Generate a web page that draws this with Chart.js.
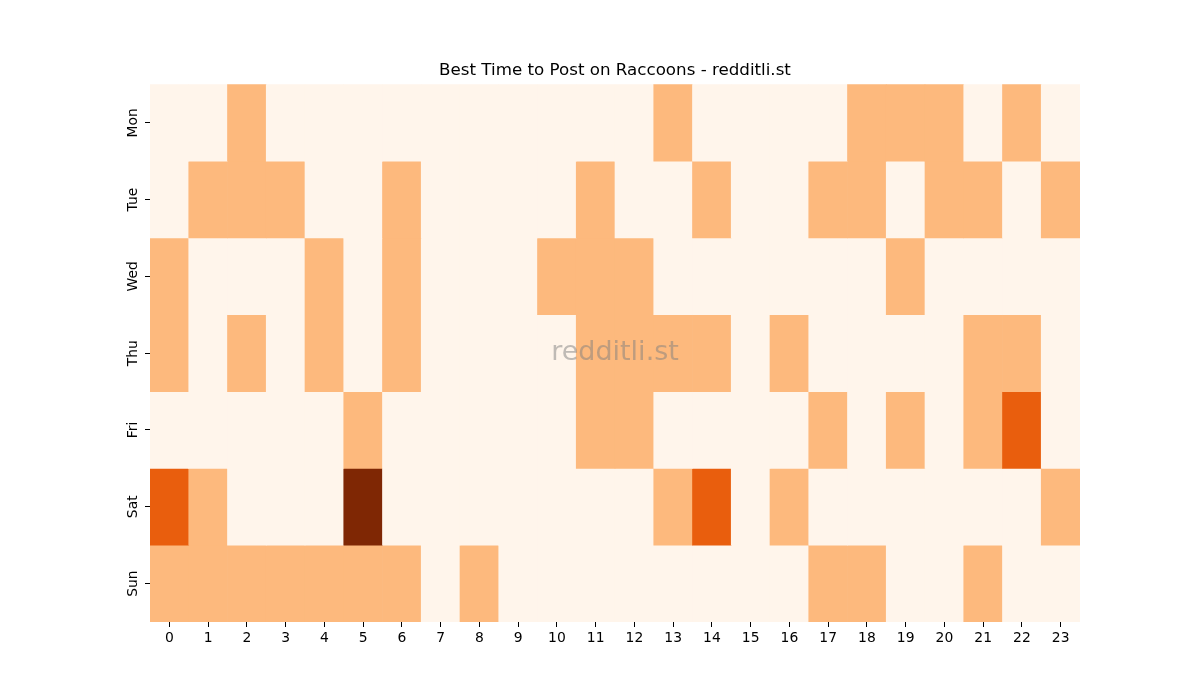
<!DOCTYPE html>
<html lang="en">
<head>
  <meta charset="UTF-8">
  <title>Best Time to Post on Raccoons</title>
  <script src="https://cdn.jsdelivr.net/npm/chart.js@4.4.1/dist/chart.umd.min.js"></script>
  <style>
    html, body { margin: 0; padding: 0; background: #fff; }
    #heatmap { display: block; }
  </style>
</head>
<body>
  <canvas id="heatmap" width="1200" height="700"></canvas>

  <script>
    const days = ['Mon', 'Tue', 'Wed', 'Thu', 'Fri', 'Sat', 'Sun'];
    const hours = ['0','1','2','3','4','5','6','7','8','9','10','11','12','13','14','15','16','17','18','19','20','21','22','23'];

    // post counts per hour, one array per day
    const mon = [0,0,1,0,0,0,0,0,0,0,0,0,0,1,0,0,0,0,1,1,1,0,1,0];
    const tue = [0,1,1,1,0,0,1,0,0,0,0,1,0,0,1,0,0,1,1,0,1,1,0,1];
    const wed = [1,0,0,0,1,0,1,0,0,0,1,1,1,0,0,0,0,0,0,1,0,0,0,0];
    const thu = [1,0,1,0,1,0,1,0,0,0,0,1,1,1,1,0,1,0,0,0,0,1,1,0];
    const fri = [0,0,0,0,0,1,0,0,0,0,0,1,1,0,0,0,0,1,0,1,0,1,2,0];
    const sat = [2,1,0,0,0,3,0,0,0,0,0,0,0,1,2,0,1,0,0,0,0,0,0,1];
    const sun = [1,1,1,1,1,1,1,0,1,0,0,0,0,0,0,0,0,1,1,0,0,1,0,0];
    const rows = [mon, tue, wed, thu, fri, sat, sun];

    // Oranges colormap, value 0..3
    const palette = ['#fff5eb', '#fdb97d', '#e95e0d', '#7f2704'];

    const datasets = rows.map((vals, d) => ({
      label: days[d],
      data: vals.map(() => [d - 0.5, d + 0.5]),
      backgroundColor: vals.map(v => palette[v]),
      borderWidth: 0,
      borderSkipped: false,
      grouped: false,
      barPercentage: 1,
      categoryPercentage: 1
    }));

    const watermark = {
      id: 'watermark',
      afterDatasetsDraw(chart) {
        const { ctx, chartArea } = chart;
        ctx.save();
        ctx.font = '27px "DejaVu Sans"';
        ctx.fillStyle = 'rgba(128, 128, 128, 0.5)';
        ctx.textAlign = 'center';
        ctx.textBaseline = 'middle';
        ctx.fillText('redditli.st', (chartArea.left + chartArea.right) / 2, (chartArea.top + chartArea.bottom) / 2);
        ctx.restore();
      }
    };

    new Chart(document.getElementById('heatmap'), {
      type: 'bar',
      data: { labels: hours, datasets },
      plugins: [watermark],
      options: {
        responsive: false,
        animation: false,
        layout: { padding: { top: 60.4, right: 120, bottom: 0, left: 0 } },
        plugins: {
          legend: { display: false },
          tooltip: { enabled: false },
          title: {
            display: true,
            fullSize: false,
            text: 'Best Time to Post on Raccoons - redditli.st',
            color: '#000',
            font: { family: 'DejaVu Sans', size: 16.7, weight: 'normal', lineHeight: 1.2 },
            padding: { top: 0, bottom: 3.9 }
          }
        },
        scales: {
          x: {
            type: 'category',
            offset: true,
            border: { display: false },
            grid: { display: true, drawOnChartArea: false, drawTicks: true, offset: false, color: '#000', lineWidth: 1, tickLength: 5 },
            ticks: { color: '#000', font: { family: 'DejaVu Sans', size: 13.9 }, padding: 3, maxRotation: 0, autoSkip: false },
            afterFit(scale) { scale.height = 78; }
          },
          y: {
            type: 'linear',
            min: -0.5,
            max: 6.5,
            reverse: true,
            border: { display: false },
            grid: { display: true, drawOnChartArea: false, drawTicks: true, color: '#000', lineWidth: 1, tickLength: 5 },
            afterBuildTicks(scale) { scale.ticks = days.map((d, i) => ({ value: i })); },
            ticks: {
              color: '#000',
              font: { family: 'DejaVu Sans', size: 13.9 },
              minRotation: 90,
              maxRotation: 90,
              crossAlign: 'center',
              padding: -4,
              callback: v => days[v]
            },
            afterFit(scale) { scale.width = 150; }
          }
        }
      }
    });
  </script>
</body>
</html>
